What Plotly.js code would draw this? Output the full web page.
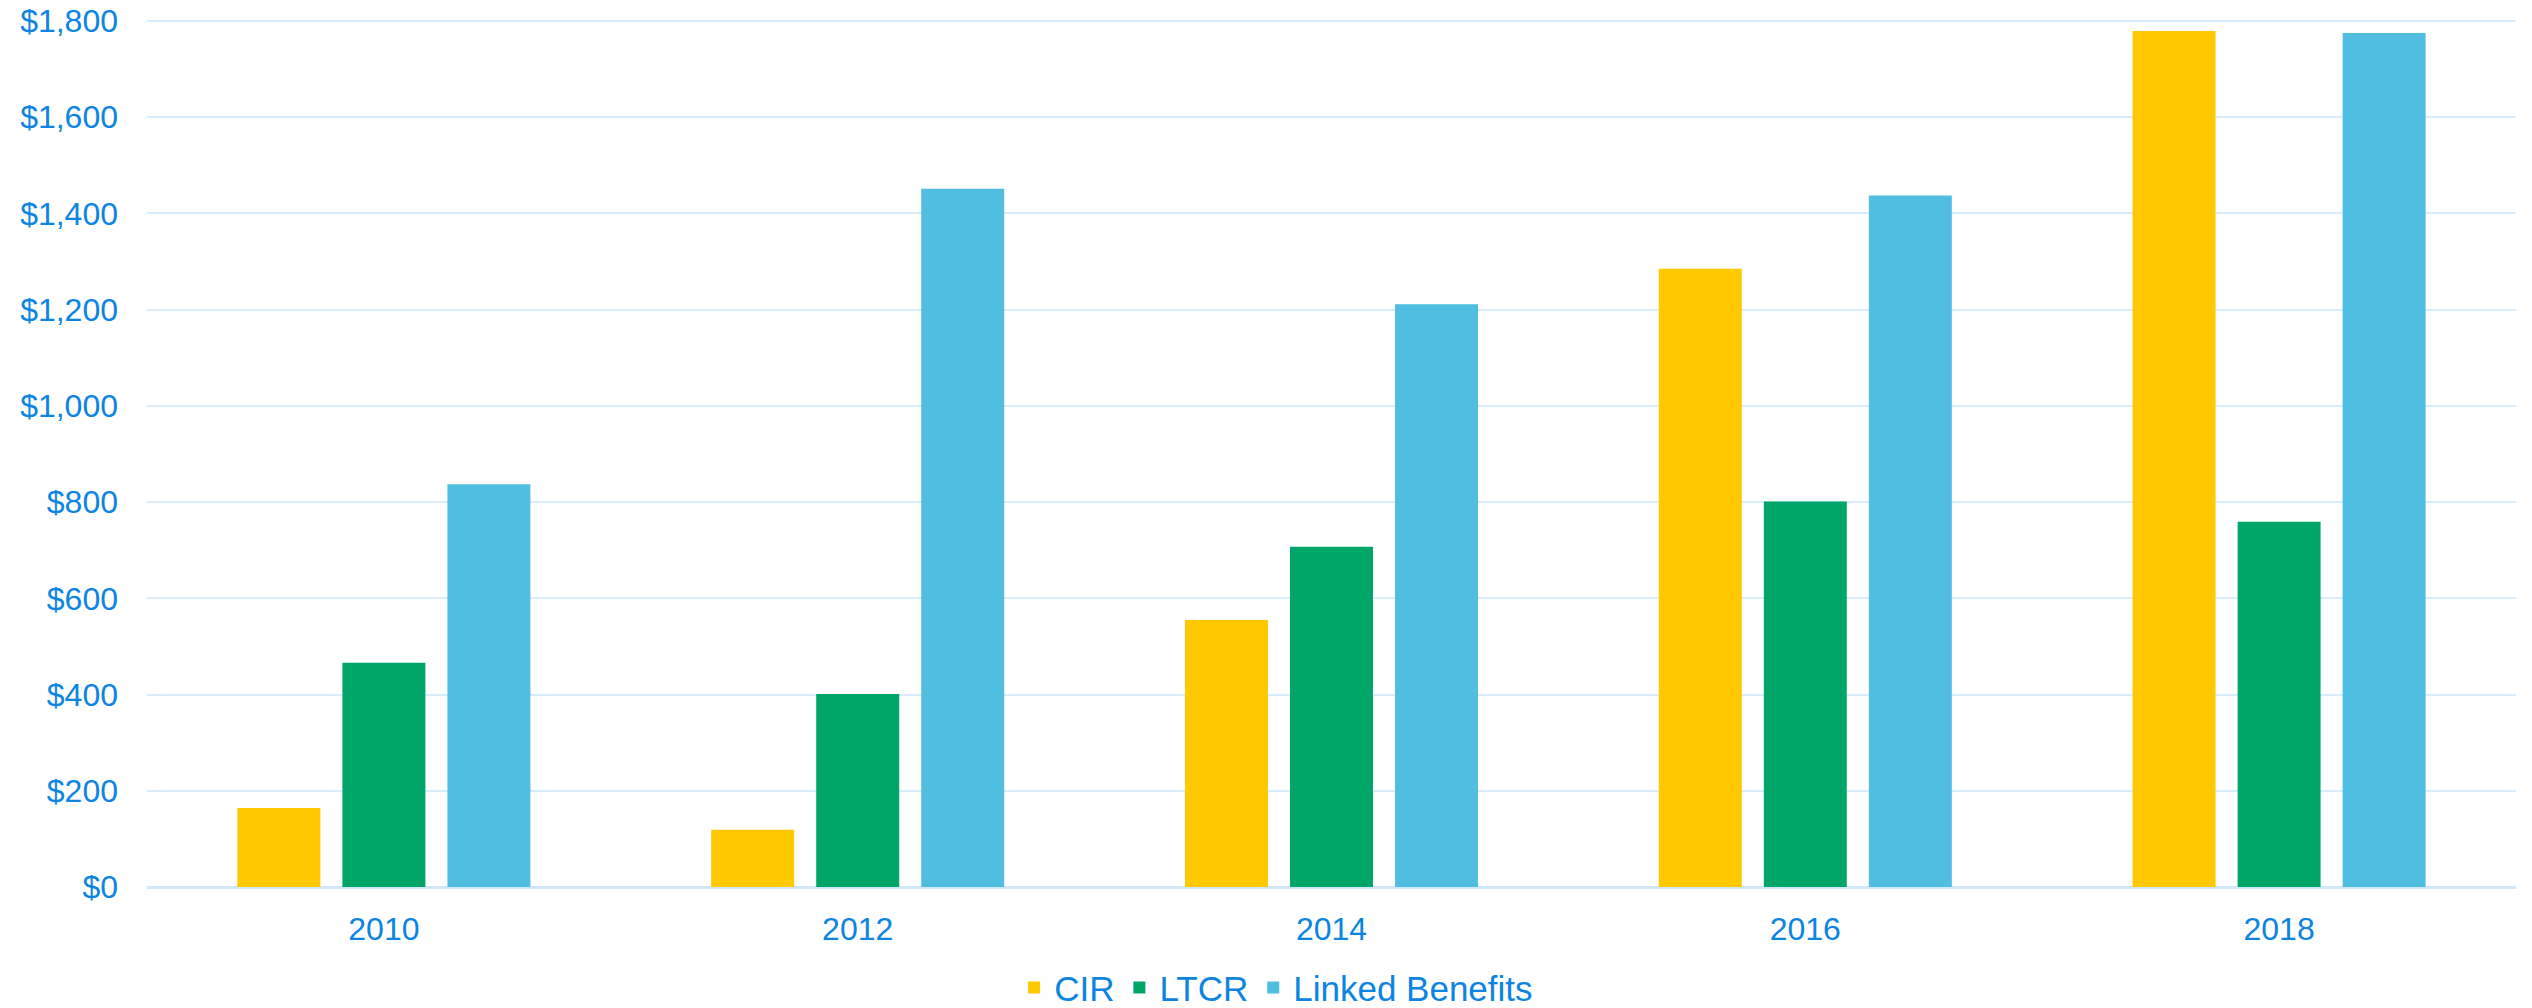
<!DOCTYPE html>
<html>
<head>
<meta charset="utf-8">
<script src="https://cdn.plot.ly/plotly-3.0.1.min.js"></script>
<style>
  html, body { margin: 0; padding: 0; background: #ffffff; }
  #chart { width: 2532px; height: 1008px; }
</style>
</head>
<body>
<div id="chart"></div>
<script>
const years = ["2010", "2012", "2014", "2016", "2018"];
const seriesNames = ["CIR", "LTCR", "Linked Benefits"];
const cirValues = [164, 119, 555, 1285, 1779];
const ltcrValues = [466, 401, 707, 801, 759];
const linkedValues = [837, 1451, 1211, 1437, 1775];
const yTickValues = [0, 200, 400, 600, 800, 1000, 1200, 1400, 1600, 1800];
const yTickLabels = ["$0", "$200", "$400", "$600", "$800", "$1,000", "$1,200", "$1,400", "$1,600", "$1,800"];

const colors = ["#FFC800", "#00A667", "#50BEE1"];
const textColor = "#0B84E2";
const fontFamily = "Liberation Sans, Arial, sans-serif";

const allValues = [cirValues, ltcrValues, linkedValues];
const traces = allValues.map((vals, i) => ({
  type: "bar",
  name: seriesNames[i],
  x: years,
  y: vals,
  marker: { color: colors[i], line: { width: 0 } },
  hoverinfo: "x+y+name"
}));

const layout = {
  width: 2532,
  height: 1008,
  margin: { l: 147, r: 16, t: 19, b: 121, pad: 0 },
  paper_bgcolor: "#ffffff",
  plot_bgcolor: "#ffffff",
  barmode: "group",
  bargap: 0.335,
  bargroupgap: 0.21,
  font: { family: fontFamily, size: 32, color: textColor },
  showlegend: true,
  legend: {
    orientation: "h",
    xref: "container",
    yref: "container",
    x: 0.504,
    xanchor: "center",
    y: 0.02,
    yanchor: "middle",
    font: { family: fontFamily, size: 35, color: textColor },
    itemwidth: 30,
    tracegroupgap: 0
  },
  xaxis: {
    type: "category",
    tickvals: years,
    ticktext: years,
    showgrid: false,
    showline: false,
    zeroline: false,
    ticks: "",
    ticklabelstandoff: 20,
    tickfont: { family: fontFamily, size: 32, color: textColor }
  },
  yaxis: {
    range: [0, 1804],
    tickvals: yTickValues,
    ticktext: yTickLabels,
    showgrid: true,
    gridcolor: "#D8ECFC",
    gridwidth: 2,
    zeroline: true,
    zerolinecolor: "#D0E7FA",
    zerolinewidth: 3,
    showline: false,
    ticks: "",
    ticklabelstandoff: 28,
    tickfont: { family: fontFamily, size: 32, color: textColor },
    fixedrange: true
  }
};

Plotly.newPlot("chart", traces, layout, { displayModeBar: false, staticPlot: true });
</script>
</body>
</html>
